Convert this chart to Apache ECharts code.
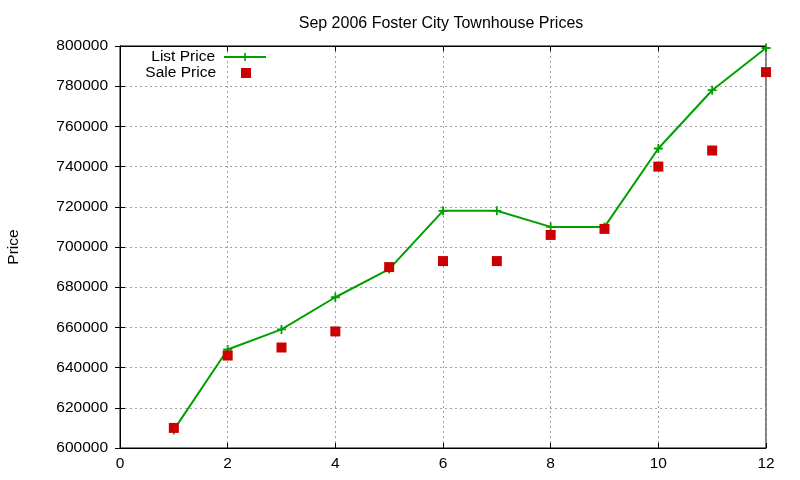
<!DOCTYPE html>
<html>
<head>
<meta charset="utf-8">
<script src="https://cdn.jsdelivr.net/npm/echarts@6/dist/echarts.min.js"></script>
<style>
  html, body { margin: 0; padding: 0; background: #fff; }
  #chart { width: 800px; height: 480px; }
</style>
</head>
<body>
<div id="chart"></div>
<script>
const months = [1, 2, 3, 4, 5, 6, 7, 8, 9, 10, 11, 12];
const listPrice = [609000, 649000, 659000, 675000, 689000, 718000, 718000, 710000, 710000, 749000, 778000, 799000];
const salePrice = [610000, 646000, 650000, 658000, 690000, 693000, 693000, 706000, 709000, 740000, 748000, 787000];

const font = 'Liberation Sans, Arial, sans-serif';
const fs = 15.5;
const plus = 'path://M4,0H6V4H10V6H6V10H4V6H0V4H4Z';
// square centred in a 42x10 box (hairline anchors keep the box width)
const squareIcon = 'path://M16,0H26V10H16Z M0,0H0.01V10H0Z M41.99,0H42V10H41.99Z';

const toPairs = (ys) => months.map((m, i) => [m, ys[i]]);

const chart = echarts.init(document.getElementById('chart'), null, { renderer: 'canvas' });

const gridLine = { show: true, lineStyle: { color: '#a0a0a0', type: [2, 3], width: 1 } };
const tickIn = { show: true, inside: true, length: 5, lineStyle: { color: '#000' } };
const legendText = { fontFamily: font, fontSize: fs, color: '#000', padding: [0, 4, 0, 0] };

chart.setOption({
    animation: false,
    backgroundColor: '#fff',
    textStyle: { fontFamily: font },
    title: {
        text: 'Sep 2006 Foster City Townhouse Prices',
        left: 436,
        textAlign: 'center',
        top: 11,
        textStyle: { fontFamily: font, fontSize: 16, fontWeight: 'normal', color: '#000' }
    },
    legend: [
        {
            data: ['List Price'],
            right: 533,
            top: 49,
            padding: 0,
            align: 'right',
            itemWidth: 42,
            itemHeight: 10,
            textStyle: legendText
        },
        {
            data: [{ name: 'Sale Price', icon: squareIcon }],
            right: 533,
            top: 65,
            padding: 0,
            align: 'right',
            itemWidth: 42,
            itemHeight: 10,
            textStyle: legendText
        }
    ],
    grid: {
        left: 120, right: 34, top: 46, bottom: 32,
        outerBoundsMode: 'none',
        containLabel: false,
        show: true, borderColor: '#000', borderWidth: 1
    },
    xAxis: [
        {
            type: 'value', min: 0, max: 12, interval: 2,
            axisLine: { show: true, lineStyle: { color: '#000' } },
            axisTick: tickIn,
            axisLabel: { color: '#000', fontFamily: font, fontSize: fs, margin: 8 },
            splitLine: gridLine
        },
        {
            type: 'value', min: 0, max: 12, interval: 2, position: 'top',
            axisLine: { show: true, lineStyle: { color: '#000' } },
            axisTick: tickIn,
            axisLabel: { show: false },
            splitLine: { show: false }
        }
    ],
    yAxis: [
        {
            type: 'value', min: 600000, max: 800000, interval: 20000,
            name: 'Price',
            nameLocation: 'middle',
            nameGap: 98,
            nameTextStyle: { color: '#000', fontFamily: font, fontSize: fs },
            axisLine: { show: true, lineStyle: { color: '#000' } },
            axisTick: tickIn,
            axisLabel: { color: '#000', fontFamily: font, fontSize: fs, margin: 12, formatter: (v) => String(v) },
            splitLine: gridLine
        },
        {
            type: 'value', min: 600000, max: 800000, interval: 20000, position: 'right',
            axisLine: { show: true, lineStyle: { color: '#000' } },
            axisTick: tickIn,
            axisLabel: { show: false },
            splitLine: { show: false }
        }
    ],
    series: [
        {
            name: 'List Price',
            type: 'line',
            data: toPairs(listPrice),
            symbol: plus,
            symbolSize: 9,
            showAllSymbol: true,
            lineStyle: { color: '#00a000', width: 2 },
            itemStyle: { color: '#00a000' },
            z: 3
        },
        {
            name: 'Sale Price',
            type: 'scatter',
            data: toPairs(salePrice),
            symbol: 'rect',
            symbolSize: 10,
            itemStyle: { color: '#cc0000', opacity: 1 },
            z: 4
        }
    ]
});
</script>
</body>
</html>
